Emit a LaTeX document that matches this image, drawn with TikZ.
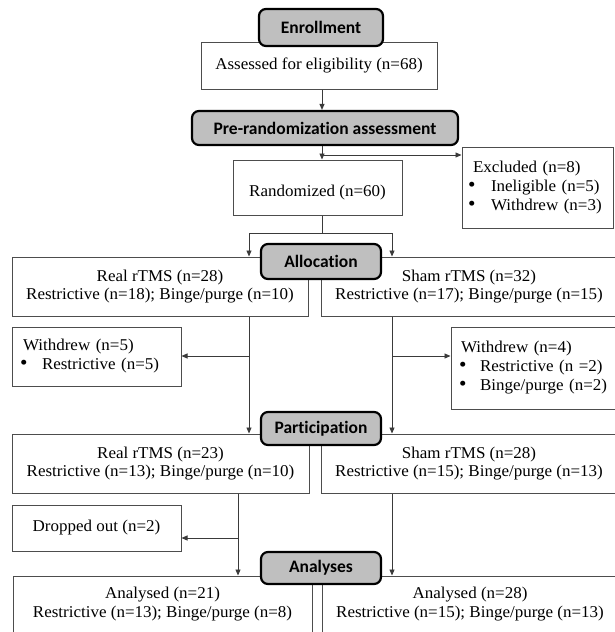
\documentclass[tikz,border=0pt]{standalone}
\usepackage{fontspec}
\setmainfont{Liberation Serif}[FakeStretch=1.03]
\newfontfamily\hdfont{Carlito}[Ligatures=NoCommon]
\usetikzlibrary{arrows.meta}
\definecolor{boxgray}{HTML}{4D4D4D}
\definecolor{hdrgray}{HTML}{BFBFBF}
\definecolor{linegray}{HTML}{3A3A3A}
\newcommand{\bul}[1]{\makebox[#1][l]{\smash{\scalebox{1.25}{\textbullet}}}}
\begin{document}
\begin{tikzpicture}[x=1pt,y=-1pt,
  box/.style={draw=boxgray, line width=1pt, fill=white, inner sep=0pt,
    align=center, font=\fontsize{16.5}{18.5}\selectfont},
  lbox/.style={draw=boxgray, line width=1pt, fill=white, inner ysep=0pt,
    align=left, font=\fontsize{16.5}{19}\selectfont},
  txt/.style={inner sep=0pt, align=center, font=\fontsize{16.5}{18.5}\selectfont},
  hdr/.style={draw=black, line width=2.2pt, fill=hdrgray, rounded corners=7pt,
    inner sep=0pt, font=\hdfont\bfseries\fontsize{17.5}{20}\selectfont},
  arr/.style={draw=linegray, line width=0.9pt, -{Triangle[length=6pt,width=5pt]}},
  ln/.style={draw=linegray, line width=0.9pt}
]
\clip (0,0) rectangle (615,632);
\fill[white] (0,0) rectangle (615,632);

% column coordinates
\coordinate (cx) at (322,0);
\coordinate (lx) at (249,0);
\coordinate (rx) at (392,0);
\coordinate (lx2) at (238,0);

% plain boxes
\node[box, minimum width=236, minimum height=47] (assess) at (319,65.5) {Assessed for eligibility (n=68)};
\node[box, minimum width=169, minimum height=55] (rand) at (317.5,187.5) {};
\node[txt] (randt) at (317.5,193) {Randomized (n=60)};
\node[lbox, inner xsep=6pt, text width=139pt, minimum height=81] (excl) at (537.5,187.5)
  {\hspace*{5pt}Excluded (n=8)\\\bul{23pt}Ineligible (n=5)\\\bul{23pt}Withdrew (n=3)};

\node[box, minimum width=296, minimum height=59] (real1) at (160,286.5) {Real rTMS (n=28)\\Restrictive (n=18); Binge/purge (n=10)};
\node[box, minimum width=296, minimum height=59] (sham1) at (469,286.5) {Sham rTMS (n=32)\\Restrictive (n=17); Binge/purge (n=15)};

\node[lbox, inner xsep=8pt, text width=153pt, minimum height=59] (wd5) at (96.5,356.5)
  {\hspace*{3pt}Withdrew (n=5)\\\bul{22pt}Restrictive (n=5)};
\node[lbox, inner xsep=8pt, text width=150pt, minimum height=82] (wd4) at (534,368)
  {\hspace*{2pt}Withdrew (n=4)\\\bul{21pt}Restrictive (n =2)\\\bul{21pt}Binge/purge (n=2)};

\node[box, minimum width=297, minimum height=59] (real2) at (160.5,463.5) {Real rTMS (n=23)\\Restrictive (n=13); Binge/purge (n=10)};
\node[box, minimum width=296, minimum height=59] (sham2) at (469,463.5) {Sham rTMS (n=28)\\Restrictive (n=15); Binge/purge (n=13)};

\node[box, minimum width=169, minimum height=46] (drop) at (96.5,528) {Dropped out (n=2)};

\node[box, minimum width=299, minimum height=80] (an1) at (162.5,616) {};
\node[txt] (an1t) at (162.5,604) {Analysed (n=21)\\Restrictive (n=13); Binge/purge (n=8)};
\node[box, minimum width=296, minimum height=80] (an2) at (470,616) {};
\node[txt] (an2t) at (470,604) {Analysed (n=28)\\Restrictive (n=15); Binge/purge (n=13)};

% header boxes
\node[hdr, minimum width=124, minimum height=37] (enroll) at (321,27.5) {Enrollment};
\node[hdr, minimum width=266, minimum height=34] (prerand) at (325,128) {Pre-randomization assessment};
\node[hdr, minimum width=120, minimum height=35] (alloc) at (321,261.5) {Allocation};
\node[hdr, minimum width=120, minimum height=33] (part) at (321,428.5) {Participation};
\node[hdr, minimum width=120, minimum height=32] (anal) at (321,568) {Analyses};

% connectors
\draw[arr] (assess.south -| cx) -- (prerand.north -| cx);
\draw[arr] (prerand.south -| cx) -- (rand.north -| cx);
\coordinate (exb) at (322,155);
\draw[arr] (exb) -- (exb -| excl.west);
\coordinate (split) at (322,233);
\draw[ln] (rand.south -| cx) -- (split);
\draw[arr] (split) -| (real1.north -| lx);
\draw[arr] (split) -| (sham1.north -| rx);

\draw[arr] (real1.south -| lx) -- (real2.north -| lx);
\coordinate (b5) at (249,356);
\draw[arr] (b5) -- (b5 -| wd5.east);
\draw[arr] (sham1.south -| rx) -- (sham2.north -| rx);
\coordinate (b4) at (392,356);
\draw[arr] (b4) -- (b4 -| wd4.west);

\draw[arr] (real2.south -| lx2) -- (an1.north -| lx2);
\coordinate (bd) at (238,538);
\draw[arr] (bd) -- (bd -| drop.east);
\draw[arr] (sham2.south -| rx) -- (an2.north -| rx);
\end{tikzpicture}
\end{document}
